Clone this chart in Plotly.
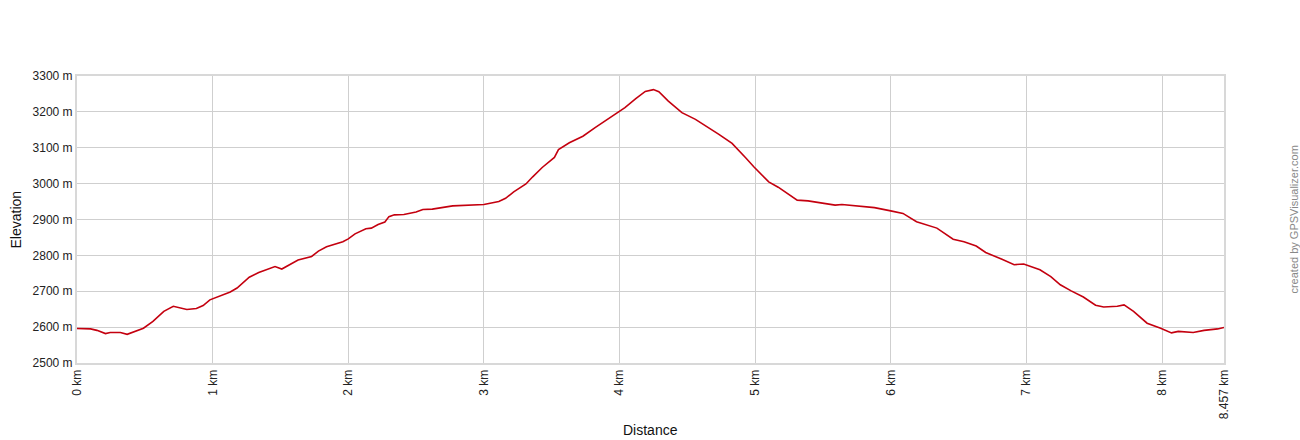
import plotly.graph_objects as go

# track profile (km, m)
distance_km = [0.0, 0.1, 0.147, 0.21, 0.245, 0.32, 0.37, 0.42, 0.49, 0.56, 0.64, 0.71, 0.76, 0.81,
               0.88, 0.93, 0.98, 1.05, 1.13, 1.18, 1.23, 1.27, 1.34, 1.40, 1.46, 1.51, 1.57, 1.63,
               1.73, 1.78, 1.84, 1.91, 1.96, 2.0, 2.05, 2.13, 2.17, 2.22, 2.27, 2.30, 2.34, 2.41,
               2.50, 2.55, 2.62, 2.77, 3.0, 3.11, 3.16, 3.22, 3.31, 3.36, 3.43, 3.52, 3.55, 3.63,
               3.73, 3.82, 3.91, 4.0, 4.04, 4.12, 4.19, 4.25, 4.29, 4.36, 4.46, 4.56, 4.63, 4.73,
               4.83, 4.88, 4.93, 4.99, 5.05, 5.10, 5.17, 5.25, 5.31, 5.39, 5.49, 5.59, 5.64, 5.74,
               5.88, 6.0, 6.09, 6.19, 6.28, 6.34, 6.46, 6.54, 6.63, 6.70, 6.82, 6.91, 6.98, 7.10,
               7.18, 7.25, 7.33, 7.42, 7.51, 7.57, 7.67, 7.72, 7.79, 7.89, 7.99, 8.07, 8.12, 8.23,
               8.31, 8.41, 8.457]
elevation_m = [2596, 2595, 2591, 2582, 2585, 2585, 2580, 2588, 2597, 2616, 2644, 2658, 2653, 2649,
               2652, 2660, 2676, 2686, 2698, 2709, 2727, 2739, 2752, 2760, 2769, 2762, 2774, 2787,
               2797, 2812, 2824, 2831, 2838, 2846, 2860, 2874, 2876, 2886, 2893, 2908, 2913, 2914,
               2921, 2928, 2929, 2938, 2942, 2950, 2959, 2977, 2999, 3019, 3045, 3073, 3095, 3114,
               3132, 3156, 3179, 3200, 3212, 3237, 3257, 3262, 3256, 3230, 3198, 3179, 3163, 3138,
               3112, 3093, 3072, 3047, 3024, 3005, 2990, 2968, 2954, 2952, 2947, 2940, 2942, 2938,
               2933, 2924, 2917, 2894, 2883, 2876, 2845, 2838, 2826, 2808, 2789, 2774, 2776, 2760,
               2741, 2718, 2701, 2684, 2661, 2656, 2658, 2662, 2644, 2611, 2597, 2584, 2588, 2585,
               2591, 2595, 2599]

x_ticks = [0, 1, 2, 3, 4, 5, 6, 7, 8, 8.457]
x_labels = ["0 km", "1 km", "2 km", "3 km", "4 km", "5 km", "6 km", "7 km", "8 km", "8.457 km"]
y_ticks = [2500, 2600, 2700, 2800, 2900, 3000, 3100, 3200, 3300]
y_labels = [f"{v} m" for v in y_ticks]

fig = go.Figure()
fig.add_trace(go.Scatter(x=distance_km, y=elevation_m, mode="lines",
                         line=dict(color="#c4000f", width=1.6), hoverinfo="x+y"))

fig.update_layout(
    width=1300, height=440,
    margin=dict(l=77, r=76, t=76, b=77, autoexpand=False),
    paper_bgcolor="white", plot_bgcolor="white",
    showlegend=False,
    font=dict(family="Liberation Sans, Arial, sans-serif", size=12, color="#222"),
    annotations=[
        dict(text="created by GPSVisualizer.com", textangle=-90,
             xref="paper", yref="paper", x=1.0602, y=0.5,
             xanchor="center", yanchor="middle",
             showarrow=False, font=dict(size=11, color="#888")),
        dict(text="Elevation", textangle=-90, xref="paper", yref="paper",
             x=-0.0532, y=0.5, xanchor="center", yanchor="middle",
             showarrow=False, font=dict(size=14, color="#111")),
        dict(text="Distance", xref="paper", yref="paper",
             x=0.5, y=-0.233, xanchor="center", yanchor="middle",
             showarrow=False, font=dict(size=14, color="#111")),
    ],
)
fig.update_xaxes(
    range=[0, 8.457], tickvals=x_ticks, ticktext=x_labels, tickangle=-90,
    showgrid=True, gridcolor="#cfcfcf", gridwidth=1,
    showline=True, linecolor="#d8d8d8", linewidth=2, mirror=True,
    zeroline=False, ticks="", automargin=False,
)
fig.update_yaxes(
    range=[2500, 3300], tickvals=y_ticks, ticktext=y_labels,
    showgrid=True, gridcolor="#cfcfcf", gridwidth=1,
    showline=True, linecolor="#d8d8d8", linewidth=2, mirror=True,
    zeroline=False, ticks="", automargin=False,
)

# drop the default 8px body margin so the figure fills the window exactly
fig.write_html("out.html", config={"displayModeBar": False},
               post_script="document.body.style.margin='0';document.body.style.overflow='hidden';")
